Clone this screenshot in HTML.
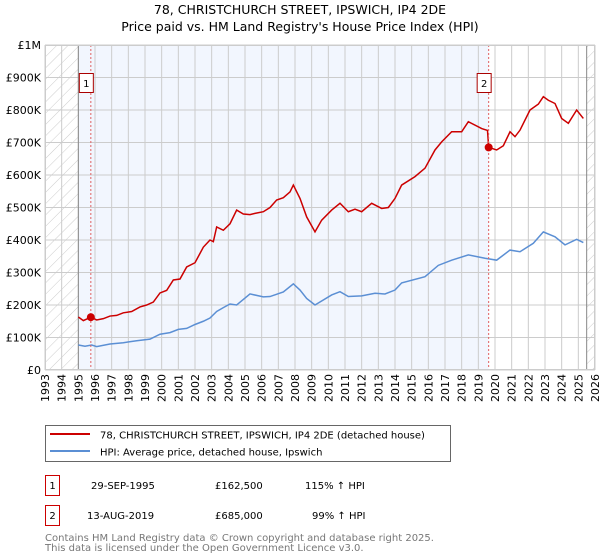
<!DOCTYPE html>
<html><head><meta charset="utf-8"><style>
body{margin:0;background:#fff;}
svg{display:block;font-family:"DejaVu Sans","Liberation Sans",sans-serif;}
</style></head><body>
<svg id="c" width="600" height="560" viewBox="0 0 600 560">
<defs><pattern id="hatch" width="8" height="8" patternUnits="userSpaceOnUse" patternTransform="rotate(45)"><line x1="0" y1="0" x2="0" y2="8" stroke="#ccc" stroke-width="1"/></pattern></defs>
<text x="300" y="14" text-anchor="middle" font-size="12.5">78, CHRISTCHURCH STREET, IPSWICH, IP4 2DE</text>
<text x="300" y="31" text-anchor="middle" font-size="12.5">Price paid vs. HM Land Registry's House Price Index (HPI)</text>
<g id="plot"></g>
<g>
<rect x="45.5" y="425.5" width="405" height="36" fill="#fff" stroke="#666"/>
<line x1="50" y1="434" x2="90" y2="434" stroke="#cc0000" stroke-width="2"/>
<text x="100" y="438.5" font-size="10">78, CHRISTCHURCH STREET, IPSWICH, IP4 2DE (detached house)</text>
<line x1="50" y1="451" x2="90" y2="451" stroke="#5b8fd4" stroke-width="2"/>
<text x="100" y="455.5" font-size="10">HPI: Average price, detached house, Ipswich</text>
</g>
<g font-size="10">
<rect x="45.5" y="475.5" width="14" height="20" fill="#fff" stroke="#cc0000"/>
<text x="52.5" y="489" text-anchor="middle">1</text>
<text x="91" y="489">29-SEP-1995</text>
<text x="215" y="489">£162,500</text>
<text x="305" y="489">115% ↑ HPI</text>
<rect x="45.5" y="505.5" width="14" height="20" fill="#fff" stroke="#cc0000"/>
<text x="52.5" y="519" text-anchor="middle">2</text>
<text x="87" y="519">13-AUG-2019</text>
<text x="215" y="519">£685,000</text>
<text x="312" y="519">99% ↑ HPI</text>
</g>
<text x="45" y="541" font-size="10" fill="#777">Contains HM Land Registry data © Crown copyright and database right 2025.</text>
<text x="45" y="551" font-size="10" fill="#777">This data is licensed under the Open Government Licence v3.0.</text>
</svg>
<script>
const yearsTicks=[1993,1994,1995,1996,1997,1998,1999,2000,2001,2002,2003,2004,2005,2006,2007,2008,2009,2010,2011,2012,2013,2014,2015,2016,2017,2018,2019,2020,2021,2022,2023,2024,2025,2026];
const yTicks=[0,100000,200000,300000,400000,500000,600000,700000,800000,900000,1000000];
const yLabels=["£0","£100K","£200K","£300K","£400K","£500K","£600K","£700K","£800K","£900K","£1M"];
const redYears=[1995.0,1995.3,1995.75,1996.1,1996.5,1996.9,1997.3,1997.7,1998.2,1998.7,1999.1,1999.5,1999.9,2000.3,2000.7,2001.1,2001.5,2002.0,2002.5,2002.9,2003.1,2003.3,2003.7,2004.1,2004.5,2004.9,2005.3,2005.6,2006.1,2006.5,2006.9,2007.3,2007.7,2007.9,2008.3,2008.7,2009.2,2009.6,2010.2,2010.7,2011.2,2011.6,2012.0,2012.6,2013.2,2013.6,2014.0,2014.4,2015.2,2015.8,2016.4,2016.8,2017.4,2018.0,2018.4,2019.2,2019.55,2019.62,2020.1,2020.5,2020.9,2021.2,2021.5,2022.1,2022.6,2022.9,2023.2,2023.6,2024.0,2024.4,2024.9,2025.3];
const redVals=[163000,152000,162500,154000,158000,166000,168000,176000,180000,194000,200000,209000,237000,245000,277000,280000,317000,330000,378000,400000,395000,440000,430000,450000,492000,480000,478000,482000,487000,500000,523000,530000,548000,569000,528000,471000,425000,461000,492000,513000,487000,495000,487000,513000,497000,500000,528000,569000,595000,621000,677000,702000,733000,733000,764000,743000,737000,685000,677000,690000,733000,718000,738000,800000,818000,841000,830000,820000,774000,759000,800000,774000];
const blueYears=[1995.0,1995.4,1995.8,1996.1,1996.9,1997.7,1998.5,1999.3,1999.9,2000.5,2001.0,2001.5,2002.0,2002.5,2002.9,2003.3,2003.7,2004.1,2004.5,2005.3,2006.1,2006.5,2007.3,2007.9,2008.3,2008.7,2009.2,2010.2,2010.7,2011.2,2012.0,2012.8,2013.4,2014.0,2014.4,2015.8,2016.6,2017.4,2018.4,2019.4,2020.1,2020.9,2021.5,2022.3,2022.9,2023.6,2024.2,2024.9,2025.3];
const blueVals=[77000,73000,77000,72000,80000,84000,90000,95000,110000,115000,125000,128000,140000,150000,160000,180000,192000,203000,200000,234000,225000,226000,240000,265000,246000,220000,200000,231000,241000,226000,228000,236000,234000,246000,268000,287000,322000,338000,354000,344000,338000,369000,364000,390000,425000,410000,385000,402000,392000];
const sales=[{t:1995.75,v:162500,n:"1"},{t:2019.62,v:685000,n:"2"}];
const X0=45,X1=595,Y0=370,Y1=45;
const xs=t=>X0+(t-1993)/33*(X1-X0);
const ys=v=>Y0-v/1000000*(Y0-Y1);
const NS="http://www.w3.org/2000/svg";
const g=document.getElementById('plot');
function el(tag,attrs,parent){const e=document.createElementNS(NS,tag);for(const k in attrs)e.setAttribute(k,attrs[k]);(parent||g).appendChild(e);return e;}
let r;
r=el('rect',{x:xs(1995),y:Y1,width:xs(2019.62)-xs(1995),height:Y0-Y1,fill:'#f2f6fe'});


r=el('rect',{x:X0,y:Y1,width:xs(1995)-X0,height:Y0-Y1,fill:'url(#hatch)'});


r=el('rect',{x:xs(2025.5),y:Y1,width:X1-xs(2025.5),height:Y0-Y1,fill:'url(#hatch)'});


yearsTicks.forEach(y=>{
 const l=el('line',{x1:xs(y),x2:xs(y),y1:Y1,y2:Y0,stroke:'#ccc','stroke-width':1});
 
 
 const t=el('text',{x:0,y:0,'font-size':11,'text-anchor':'end',transform:`translate(${xs(y)+4},${Y0+4}) rotate(-90)`});
 t.textContent=y;
 
 
});
yTicks.forEach((v,i)=>{
 const l=el('line',{x1:X0,x2:X1,y1:ys(v),y2:ys(v),stroke:'#ccc','stroke-width':1});
 
 
 const t=el('text',{x:X0-4,y:ys(v)+4,'font-size':11,'text-anchor':'end'});
 t.textContent=yLabels[i];
 
 
});
[1995,2025.5].forEach(t=>{const l=el('line',{x1:xs(t),x2:xs(t),y1:Y1,y2:Y0,stroke:'#888','stroke-width':1});
 
 });
const pb=el('polyline',{points:blueYears.map((t,i)=>xs(t)+','+ys(blueVals[i])).join(' '),fill:'none',stroke:'#5b8fd4','stroke-width':1.5});


const pr=el('polyline',{points:redYears.map((t,i)=>xs(t)+','+ys(redVals[i])).join(' '),fill:'none',stroke:'#cc0000','stroke-width':1.5});


sales.forEach(s=>{
 const l=el('line',{x1:xs(s.t),x2:xs(s.t),y1:Y1,y2:Y0,stroke:'#e06060','stroke-width':1,'stroke-dasharray':'2,2'});
 
 
 const c=el('circle',{cx:xs(s.t),cy:ys(s.v),r:4,fill:'#cc0000'});
 
 
 const b=el('rect',{x:xs(s.t)-11.5,y:73.5,width:14,height:19,fill:'#fff',stroke:'#aa0000'});
 
 
 const t=el('text',{x:xs(s.t)-4.5,y:87,'font-size':10,'text-anchor':'middle'});
 t.textContent=s.n;
 
 
});
const f=el('rect',{x:X0+.5,y:Y1+.5,width:X1-X0-1,height:Y0-Y1-1,fill:'none',stroke:'#ccc'});


</script>
</body></html>
